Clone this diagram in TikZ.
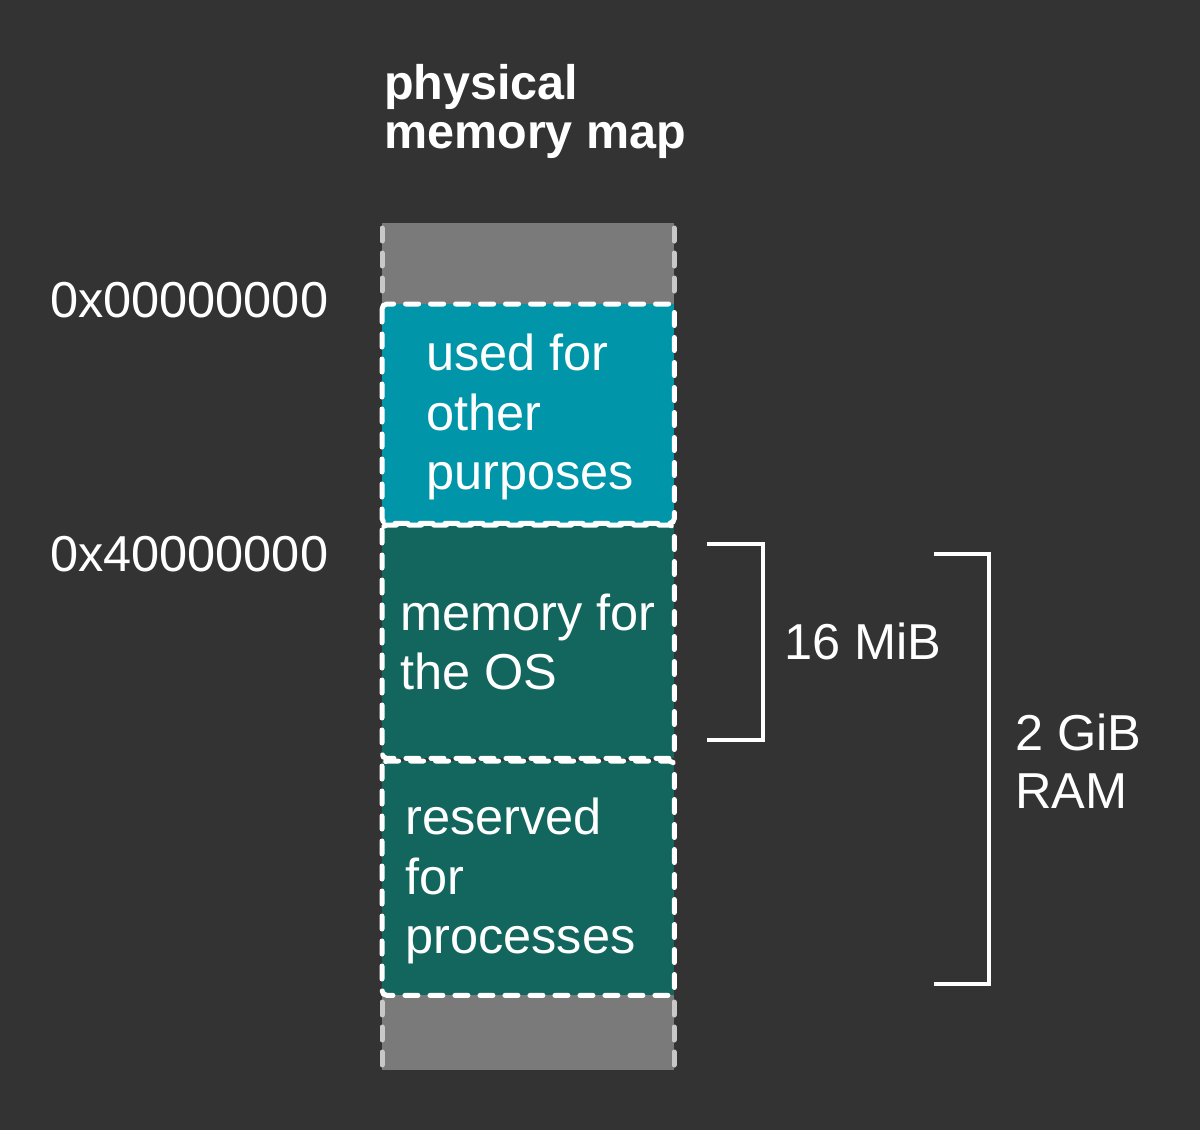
\documentclass[tikz,border=0pt]{standalone}
\usepackage{fontspec}
\setmainfont{Liberation Sans}
\definecolor{bgc}{HTML}{333333}
\definecolor{grayblk}{HTML}{7A7A7A}
\definecolor{graydash}{HTML}{C8C8C8}
\definecolor{bluebox}{HTML}{0095A8}
\definecolor{tealbox}{HTML}{12665E}
\tikzset{
  lbl/.style={text=white, inner sep=0pt, anchor=base west, font=\fontsize{50.5}{58}\selectfont},
  ttl/.style={lbl, font=\fontsize{48.5}{50}\selectfont\bfseries},
  boxdash/.style={draw=white, line width=5pt, line cap=round, dash pattern=on 13pt off 12pt, rounded corners=5pt},
  sidedash/.style={draw=graydash, line width=5pt, line cap=round, dash pattern=on 13pt off 12pt},
  brk/.style={draw=white, line width=4pt}
}
\begin{document}
\begin{tikzpicture}[x=1pt,y=-1pt]
\fill[bgc] (0,0) rectangle (1200,1130);
\useasboundingbox (0,0) rectangle (1200,1130);
% gray blocks
\fill[grayblk] (382,223) rectangle (674,304);
\fill[grayblk] (382,995) rectangle (674,1070);
\draw[sidedash] (382,228) -- (382,300);
\draw[sidedash] (674,228) -- (674,300);
\draw[sidedash] (382,1002) -- (382,1068);
\draw[sidedash] (674,1002) -- (674,1068);
% boxes
\node[fill=bluebox, minimum width=292pt, minimum height=219pt, inner sep=0pt, anchor=north west] (blue) at (382,304) {};
\node[fill=tealbox, minimum width=292pt, minimum height=233pt, inner sep=0pt, anchor=north west] (os) at (382,525) {};
\node[fill=tealbox, minimum width=292pt, minimum height=234pt, inner sep=0pt, anchor=north west] (proc) at (382,761) {};
\draw[boxdash] (blue.north west) rectangle (blue.south east);
\draw[boxdash] (os.north west) rectangle (os.south east);
\draw[boxdash] (proc.north west) rectangle (proc.south east);
% title
\node[ttl] (t1) at (384,99) {physical};
\node[ttl] (t2) at (384,148) {memory map};
% addresses
\node[lbl] (a0) at (50,317) {0x00000000};
\node[lbl] (a4) at (50,571) {0x40000000};
% box texts
\node[lbl] (b1) at (426,370) {used for};
\node[lbl] (b2) at (426,430) {other};
\node[lbl] (b3) at (426,489) {purposes};
\node[lbl] (o1) at (400,630) {memory for};
\node[lbl] (o2) at (400,689) {the OS};
\node[lbl] (p1) at (405,834) {reserved};
\node[lbl] (p2) at (405,894) {for};
\node[lbl] (p3) at (405,953) {processes};
% brackets
\coordinate (s1) at (707,544);
\coordinate (s2) at (763,544);
\coordinate (s3) at (763,740);
\coordinate (s4) at (707,740);
\draw[brk] (s1) -- (s2) -- (s3) -- (s4);
\coordinate (g1) at (934,554);
\coordinate (g2) at (989,554);
\coordinate (g3) at (989,984);
\coordinate (g4) at (934,984);
\draw[brk] (g1) -- (g2) -- (g3) -- (g4);
\node[lbl] (m16) at (784,659) {16 MiB};
\node[lbl] (g2a) at (1015,750) {2 GiB};
\node[lbl] (g2b) at (1015,808) {RAM};
\end{tikzpicture}
\end{document}
